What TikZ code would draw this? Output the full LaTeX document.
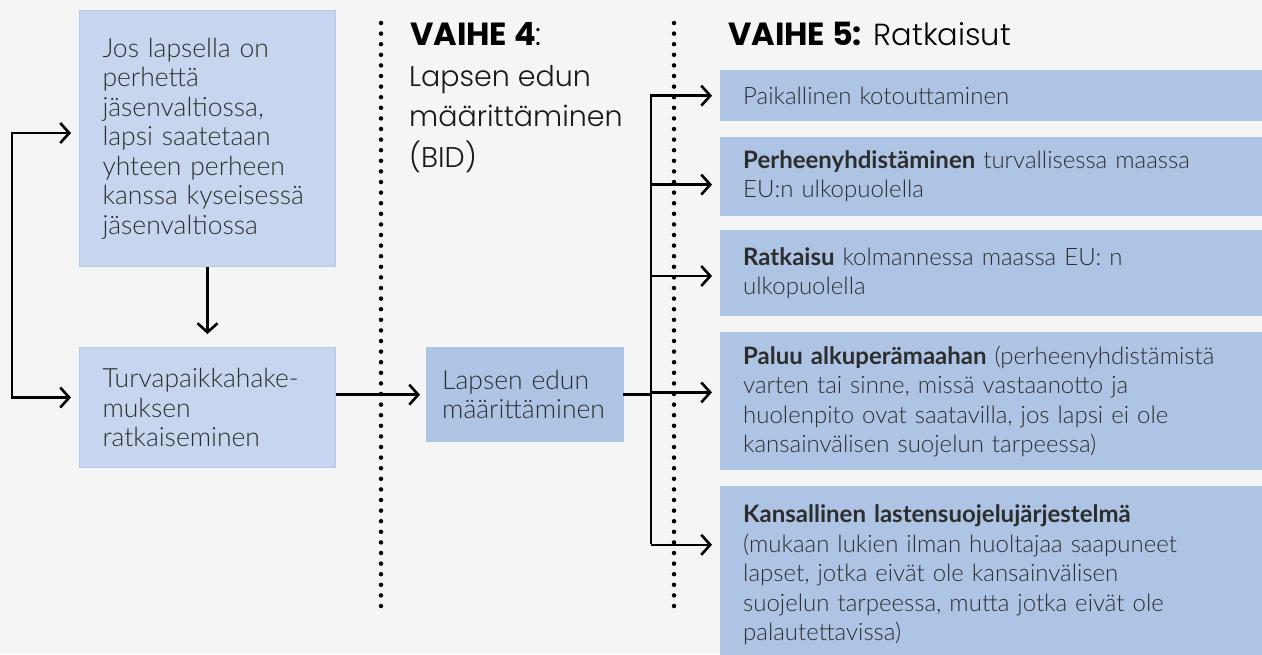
\documentclass[tikz,border=0pt]{standalone}
\usepackage{fontspec}
\setmainfont{Lato}[UprightFont=* Light, BoldFont=* Bold]
\newfontfamily\headfont{Poppins}[UprightFont=* Light, BoldFont=* Bold]
\usepackage{xcolor}
\usepackage{tikz}
\usetikzlibrary{arrows.meta, positioning}
\definecolor{cBack}{RGB}{245,245,245}
\definecolor{cPale}{RGB}{199,214,238}
\definecolor{cPaleEdge}{RGB}{182,200,232}
\definecolor{cBlue}{RGB}{174,196,229}
\definecolor{cText}{RGB}{45,45,45}
\hyphenpenalty=10000

\begin{document}
\begin{tikzpicture}[x=1pt, y=-1pt, font=\fontsize{24}{29.5}\selectfont, text=cText,
		>={Straight Barb[length=9pt, width=20pt]},
		flow/.style={line width=2.6pt, ->, shorten >=8pt},
		wire/.style={line width=2.6pt, line cap=rect},
		sepline/.style={line width=4.5pt, line cap=round, dash pattern=on 0pt off 10.6pt},
		bigText/.style={font=\fontsize{26.5}{29.5}\selectfont},
		paleBox/.style={bigText, fill=cPale, draw=cPaleEdge, line width=1pt, inner xsep=23pt, inner ysep=0pt, text width=210pt, align=left, anchor=north west},
		outBox/.style={fill=cBlue, inner xsep=23pt, inner ysep=0pt, text width=540pt, align=left, minimum height=#1}]
				\useasboundingbox (0,0) rectangle (1262,654);
				\clip (0,0) rectangle (1262,654);
				\fill[cBack] (0,0) rectangle (1262,654);
				% separators
				\draw[sepline] (381,23) -- (381,616);
				\draw[sepline] (674,23) -- (674,616);
				% left column
				\node[paleBox, minimum height=256pt] (famBox) at (79,10) {Jos lapsella on\\perhettä\\jäsenvaltiossa,\\lapsi saatetaan\\yhteen perheen\\kanssa kyseisessä\\jäsenvaltiossa};
				\node[paleBox, minimum height=120pt] (asyBox) at (79,347) {Turvapaikkahake-\\muksen\\ratkaiseminen};
				% vaihe 4
				\node[anchor=base west, inner sep=0pt, text=black, font=\headfont\fontsize{32}{38}\selectfont] (head4) at (410,45) {\textbf{VAIHE 4}:};
				\node[anchor=north west, inner sep=0pt, align=left, text=black!90, font=\headfont\fontsize{28.5}{40.5}\selectfont] (bidHead) at (409,65) {Lapsen edun\\määrittäminen\\(BID)};
				\node[bigText, fill=cBlue, inner xsep=16pt, inner ysep=0pt, text width=166pt, align=left, minimum height=95pt, anchor=north west] (bidBox) at (426,347) {Lapsen edun\\määrittäminen};
				% vaihe 5
				\node[anchor=base west, inner sep=0pt, text=black, font=\headfont\fontsize{32}{38}\selectfont] (head5) at (728,45) {\textbf{VAIHE 5:} {\fontsize{30.5}{38}\selectfont Ratkaisut}};
				\node[outBox=51pt, anchor=north west] (r1) at (720,70) {Paikallinen kotouttaminen};
				\node[outBox=79pt, below=15pt of r1] (r2) {\textbf{Perheenyhdistäminen} turvallisessa maassa\\EU:n ulkopuolella};
				\node[outBox=86pt, below=14pt of r2] (r3) {\textbf{Ratkaisu} kolmannessa maassa EU: n\\ulkopuolella};
				\node[outBox=138pt, below=16pt of r3] (r4) {\textbf{Paluu alkuperämaahan} (perheenyhdistämistä\\varten tai sinne, missä vastaanotto ja\\huolenpito ovat saatavilla, jos lapsi ei ole\\kansainvälisen suojelun tarpeessa)};
				\node[outBox=178pt, below=15pt of r4] (r5) {\textbf{Kansallinen lastensuojelujärjestelmä}\\(mukaan lukien ilman huoltajaa saapuneet\\lapset, jotka eivät ole kansainvälisen\\suojelun tarpeessa, mutta jotka eivät ole\\palautettavissa)};
				% connectors
				\coordinate (loopTop) at (12,133);
				\draw[flow, shorten >=13pt] (famBox) -- (asyBox);
				\draw[flow, <->, shorten <=8pt] (famBox.west |- loopTop) -- (loopTop) |- ([yshift=10pt]asyBox.west);
				\draw[flow, shorten >=6pt] (asyBox.east |- bidBox) -- (bidBox);
				\coordinate (busTop) at (651,95);
				\coordinate (busBot) at (651,543);
				\draw[wire] (bidBox.east) -- (bidBox.east -| busTop);
				\draw[wire] (busTop) -- (busBot);
				\foreach \r/\s in {r1/0, r2/-8.5, r3/-3, r4/9, r5/30}{
					\path ([yshift=\s pt]\r.west) coordinate (tip);
					\draw[flow] (busTop |- tip) -- (tip);
				}
			\end{tikzpicture}
\end{document}
